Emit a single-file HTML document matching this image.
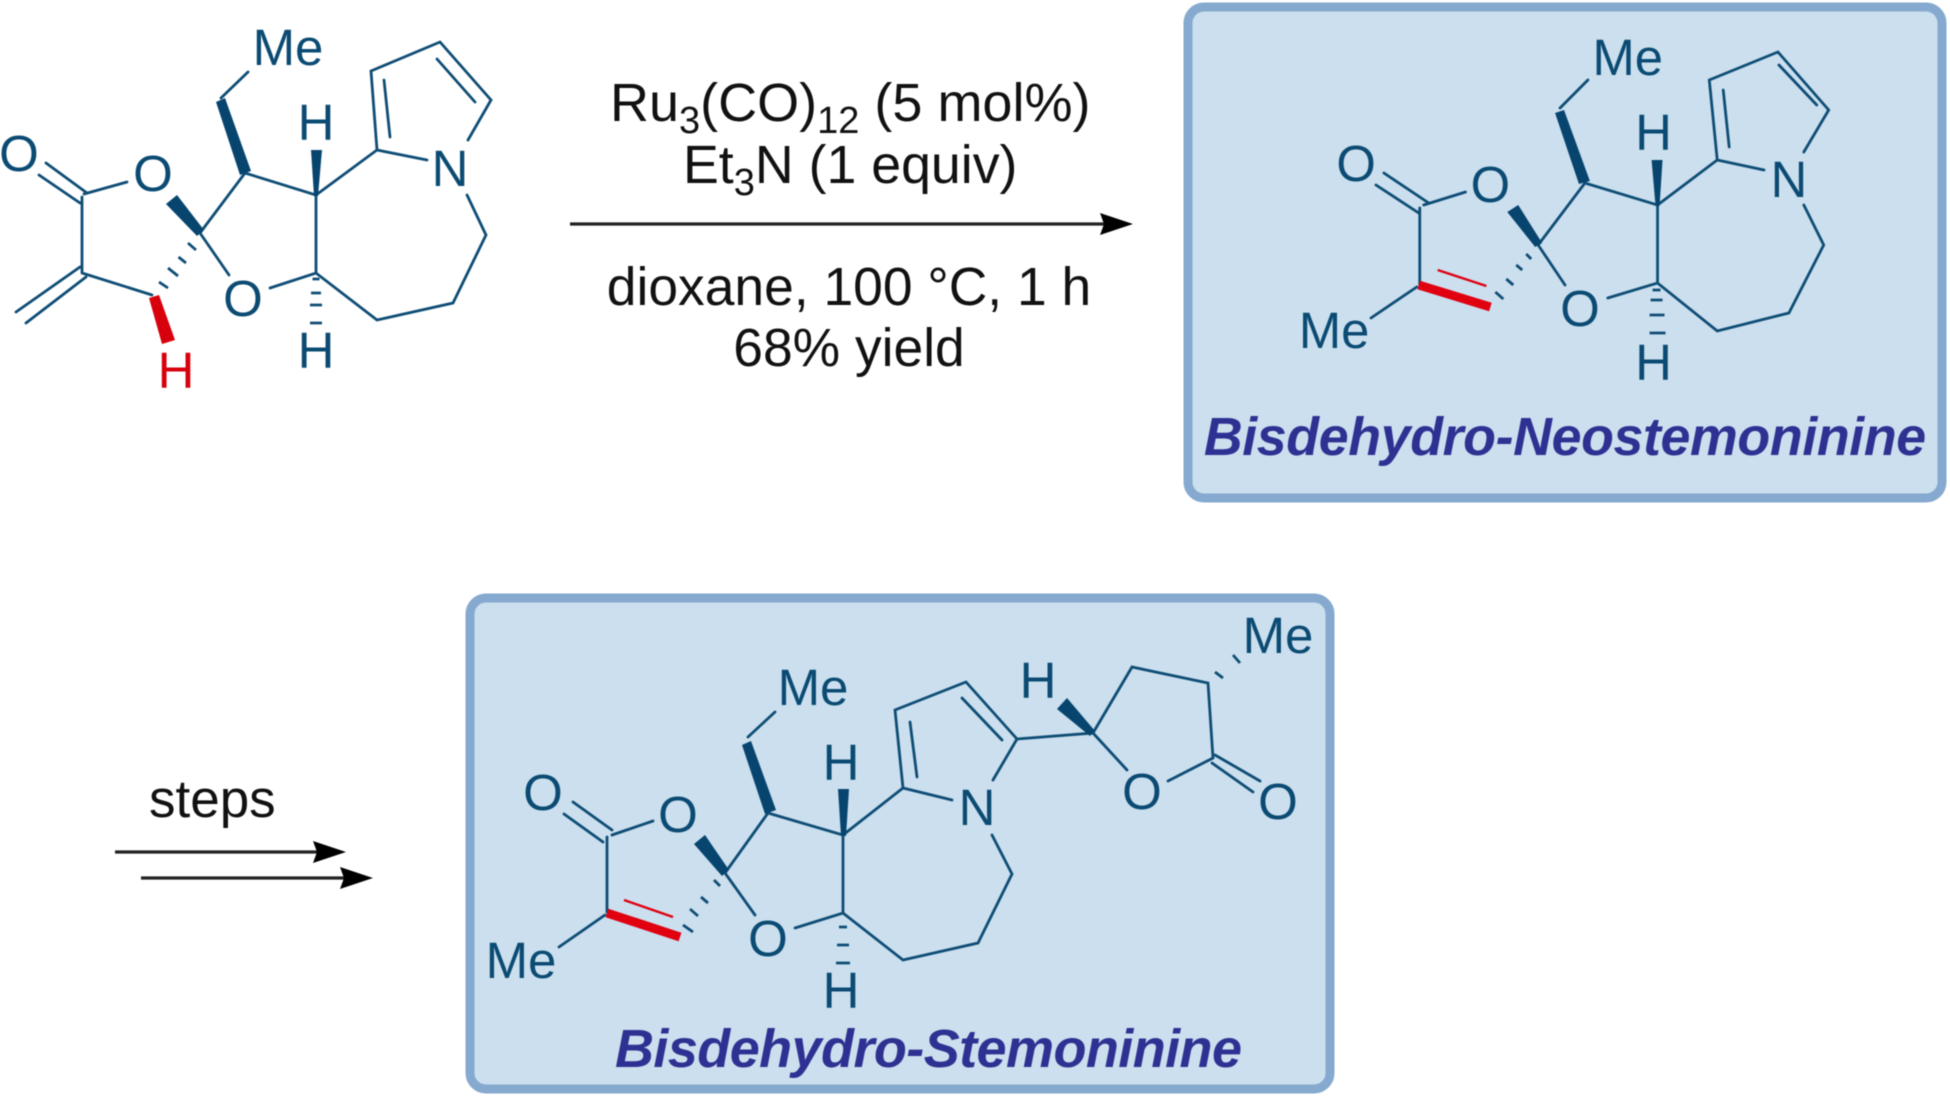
<!DOCTYPE html>
<html><head><meta charset="utf-8"><style>
html,body{margin:0;padding:0;background:#fff;width:1950px;height:1096px;overflow:hidden}
svg{display:block;filter:blur(.65px)}
text{font-family:"Liberation Sans",Arial,sans-serif}
.a{font-size:51px;fill:#0b4b73;text-anchor:middle}
.r{font-size:54px;fill:#111}
.r2{font-size:53.4px;fill:#111;text-anchor:middle}
.t{font-size:54px;font-weight:bold;font-style:italic;fill:#2e3192}
.b{fill:none;stroke:#0f4d75;stroke-width:2.8;stroke-linecap:round;stroke-linejoin:miter}
.w{fill:#07456f;stroke:none}
.h{fill:none;stroke:#0f4d75;stroke-width:2.8}
.bx{fill:#cbdfee;stroke:#86a9cf;stroke-width:9}
</style></head><body>
<svg width="1950" height="1096" viewBox="0 0 1950 1096" xmlns="http://www.w3.org/2000/svg">
<rect x="1188" y="7" width="754" height="491" rx="16" class="bx"/>
<rect x="470" y="598" width="860" height="491" rx="16" class="bx"/>

<!-- Molecule 1 -->
<text class="a" x="288" y="65">Me</text>
<text class="a" x="316" y="140">H</text>
<text class="a" x="316" y="368">H</text>
<text class="a" x="153" y="191">O</text>
<text class="a" x="19" y="171">O</text>
<text class="a" x="243" y="316">O</text>
<text class="a" x="450" y="186">N</text>
<text class="a" x="176" y="388" style="fill:#d9000d">H</text>
<path class="b" d="M248 72L221 98M200 233L245 173L316 195V273M200 233L229 275M270 288L316 273L377 320L453 303L486 235L467 195M316 195L377 150L371 71L440 42L491 100L468 140M377 150L427 160M384 80L390 137M437 59L475 102M84 194L127 182M82 197V272M46 163L87 193M39 175L80 203M80 267L16 312M86 277L26 323M82 273L152 295"/>
<polygon class="w" points="216,102 225,98 251,171 240,175"/>
<polygon class="w" points="311,150 322,150 318,196 314,196"/>
<polygon class="w" points="166,204 177,195 204,230 197,236"/>
<polygon style="fill:#d9000d" points="149,298 159,295 175,340 162,344"/>
<path class="h" d="M188 243L196 250M178.500 257L186 263M168 268L178 276M159 282L168 288M312.500 279H319.500M311 293H321M310 305H322M310 323H322"/>

<!-- Reaction text -->
<text class="r" x="610" y="121">Ru<tspan font-size="38" dy="12">3</tspan><tspan dy="-12">(CO)</tspan><tspan font-size="38" dy="12">12</tspan><tspan dy="-12"> (5 mol%)</tspan></text>
<text class="r" x="683" y="183" style="font-size:53.700px">Et<tspan font-size="38" dy="12">3</tspan><tspan dy="-12">N (1 equiv)</tspan></text>
<text class="r2" x="849" y="305">dioxane, 100 °C, 1 h</text>
<text class="r2" x="849" y="366">68% yield</text>
<path d="M570 224H1106" stroke="#222" stroke-width="3.200" fill="none"/>
<polygon points="1133,224 1100,213 1104,224 1100,235" fill="#000"/>
<text class="r" x="149" y="817" style="font-size:53px">steps</text>
<path d="M115 852H320" stroke="#222" stroke-width="3.200" fill="none"/>
<polygon points="346,852 313,841 317,852 313,863" fill="#000"/>
<path d="M141 878H347" stroke="#222" stroke-width="3.200" fill="none"/>
<polygon points="373,878 340,867 344,878 340,889" fill="#000"/>

<!-- Molecule 2 -->
<g transform="translate(1170 0) scale(.995 1) translate(-1170 0)">
<text class="a" x="1630" y="75">Me</text>
<text class="a" x="1656" y="150">H</text>
<text class="a" x="1656" y="380">H</text>
<text class="a" x="1492" y="202">O</text>
<text class="a" x="1357" y="181">O</text>
<text class="a" x="1582" y="326">O</text>
<text class="a" x="1792" y="197">N</text>
<text class="a" x="1335" y="348">Me</text>
<path class="b" d="M1590 80L1562 108M1540 245L1587 183L1660 205V283M1540 245L1567 285M1610 298L1660 283L1720 331L1792 313L1827 245L1807 205M1660 205L1720 160L1712 80L1781 52L1832 110L1807 152M1720 160L1767 170M1726 90L1732 147M1782 65L1820 105M1425 205L1467 192M1421 208V285M1385 173L1430 203M1377 185L1420 213M1418 287L1372 318"/>
<polygon class="w" points="1557,113 1566,110 1592,181 1581,184"/>
<polygon class="w" points="1654,160 1665,160 1662,206 1658,206"/>
<polygon class="w" points="1509,212 1520,205 1544,243 1537,247"/>
<path d="M1420 285L1492 307" stroke="#e00010" stroke-width="9" fill="none"/>
<path d="M1439 270L1488 286" stroke="#e00010" stroke-width="2.400" fill="none"/>
<path class="h" d="M1528 254L1533 259M1518 265L1524 270M1508 279L1515 285M1497 292L1505 299M1655 290H1663M1653 300H1665M1652 315H1667M1652 333H1668"/>
<text class="t" x="1204" y="455" textLength="726" lengthAdjust="spacing">Bisdehydro-Neostemoninine</text>
</g>

<!-- Molecule 3 -->
<text class="a" x="813" y="705">Me</text>
<text class="a" x="841" y="780">H</text>
<text class="a" x="841" y="1008">H</text>
<text class="a" x="678" y="832">O</text>
<text class="a" x="543" y="810">O</text>
<text class="a" x="768" y="956">O</text>
<text class="a" x="977" y="825">N</text>
<text class="a" x="521" y="978">Me</text>
<text class="a" x="1038" y="698">H</text>
<text class="a" x="1142" y="809">O</text>
<text class="a" x="1278" y="819">O</text>
<text class="a" x="1278" y="653">Me</text>
<path class="b" d="M775 712L748 737M725 873L768 813L843 835V913M725 873L755 915M795 928L843 913L903 960L978 943L1012 874L992 835M843 835L903 788L895 710L966 682L1017 739L993 780M903 788L952 800M910 722L917 777M962 698L1002 740M612 835L653 821M607 837V912M573 802L612 830M564 814L603 842M605 915L559 947M1017 739L1093 733L1132 667L1208 683L1213 758L1168 781M1093 733L1127 770M1215 755L1260 781M1212 763L1253 792"/>
<polygon class="w" points="742,745 751,741 776,810 765,814"/>
<polygon class="w" points="838,789 849,789 846,836 841,836"/>
<polygon class="w" points="694,844 705,835 729,870 722,876"/>
<polygon class="w" points="1057,709 1067,698 1095,731 1090,736"/>
<path d="M607 913L680 937" stroke="#e00010" stroke-width="9" fill="none"/>
<path d="M624 900L673 917" stroke="#e00010" stroke-width="2.400" fill="none"/>
<path class="h" d="M714 880L720 886M701 897L708 903M690 909L698 916M683 925L693 932M839 927H847M837 945H849M836 963H850M1215 672L1223 678M1233 655L1240 663"/>
<text class="t" x="615" y="1067" textLength="627" lengthAdjust="spacing">Bisdehydro-Stemoninine</text>
</svg>
</body></html>
